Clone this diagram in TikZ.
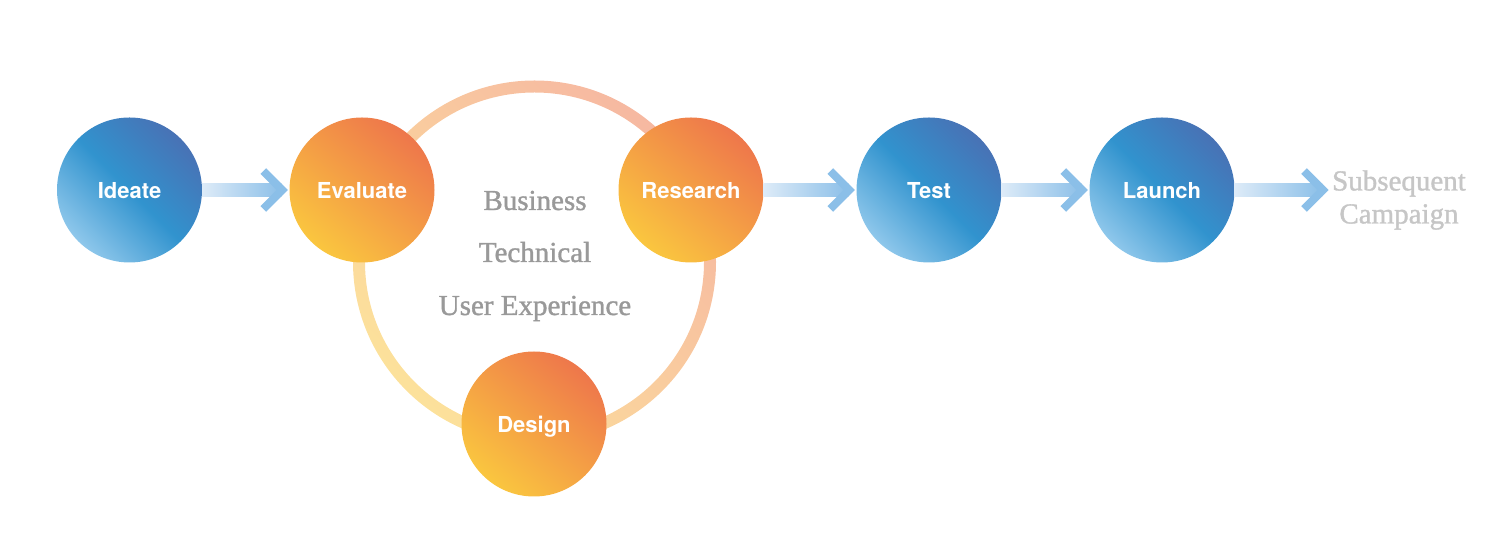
\documentclass[tikz,border=0pt]{standalone}
\usepackage{fontspec}
\newfontfamily\stagefont{TeX Gyre Heros}
\newfontfamily\notefont[FakeBold=1.2]{Liberation Serif}
\definecolor{blueTop}{HTML}{4872B5}
\definecolor{blueMid}{HTML}{3193CE}
\definecolor{blueBot}{HTML}{8EC7EB}
\definecolor{orangeTop}{HTML}{EE774B}
\definecolor{orangeBot}{HTML}{FAC63F}
\definecolor{shaftLight}{HTML}{DDEBF8}
\definecolor{shaftDark}{HTML}{8BBFE8}
\definecolor{noteGray}{HTML}{999999}
\definecolor{nextGray}{HTML}{C6C6C6}
\tikzset{
  stage/.style={circle, minimum size=145pt, inner sep=0pt, text=white, text depth=0pt,
    font=\stagefont\bfseries\fontsize{22}{26}\selectfont},
  bluestage/.style={stage, top color=blueTop, bottom color=blueBot, middle color=blueMid, shading angle=-45},
  orangestage/.style={stage, top color=orangeTop, bottom color=orangeBot, shading angle=-40},
  shaft/.style={left color=shaftLight, right color=shaftDark},
  chevron/.style={draw=shaftDark, line width=8pt, miter limit=10},
  note/.style={anchor=base, text=noteGray, font=\notefont\fontsize{29}{34}\selectfont}
}
\begin{document}
\begin{tikzpicture}[x=1pt, y=1pt]
  \useasboundingbox (0,0) rectangle (1500,543);
  % ring behind the loop
  \coordinate (ring) at (534.5,281);
  \shade[top color=orangeTop!52, bottom color=orangeBot!52, shading angle=-45, even odd rule]
    (ring) circle (181.5) (ring) circle (169.5);
  % stages
  \node[bluestage] (ideate) at (129.5,353) {Ideate};
  \node[orangestage] (evaluate) at (362,353) {Evaluate};
  \node[orangestage] (research) at (691,353) {Research};
  \node[orangestage] (design) at (534,119) {Design};
  \node[bluestage] (test) at (929,353) {Test};
  \node[bluestage] (launch) at (1162,353) {Launch};
  % texts
  \node[note] (business) at (535,333) {Business};
  \node[note] (technical) at (535,281) {Technical};
  \node[note] (userexp) at (535,228) {User Experience};
  \node[align=center, text=nextGray, font=\notefont\fontsize{29}{33}\selectfont] (subsequent) at (1399,343) {Subsequent\\Campaign};
  \coordinate (next) at (1323,353);
  % arrows
  \shade[shaft] ([yshift=6.5pt]ideate.east) rectangle ([yshift=-6.5pt,xshift=-8pt]evaluate.west);
  \draw[chevron] ([shift={(-26,19)}]evaluate.west) -- ([xshift=-7pt]evaluate.west) -- ([shift={(-26,-19)}]evaluate.west);
  \shade[shaft] ([yshift=6.5pt]research.east) rectangle ([yshift=-6.5pt,xshift=-8pt]test.west);
  \draw[chevron] ([shift={(-26,19)}]test.west) -- ([xshift=-7pt]test.west) -- ([shift={(-26,-19)}]test.west);
  \shade[shaft] ([yshift=6.5pt]test.east) rectangle ([yshift=-6.5pt,xshift=-8pt]launch.west);
  \draw[chevron] ([shift={(-26,19)}]launch.west) -- ([xshift=-7pt]launch.west) -- ([shift={(-26,-19)}]launch.west);
  \shade[shaft] ([yshift=6.5pt]launch.east) rectangle ([yshift=-6.5pt,xshift=-1pt]next);
  \draw[chevron] ([shift={(-19,19)}]next) -- (next) -- ([shift={(-19,-19)}]next);
\end{tikzpicture}
\end{document}
